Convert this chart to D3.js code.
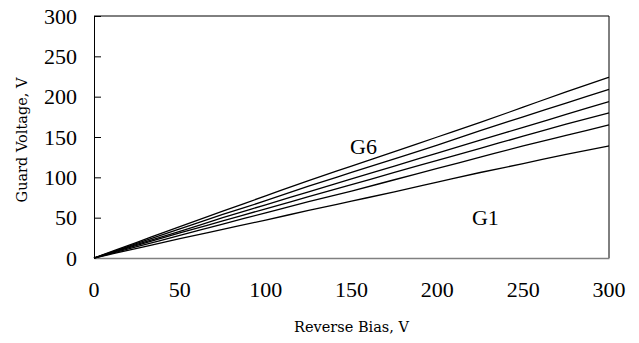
<!DOCTYPE html>
<html>
<head>
<meta charset="utf-8">
<script src="https://cdn.jsdelivr.net/npm/d3@7.9.0/dist/d3.min.js"></script>
<style>
  body { margin: 0; background: #fff; }
  svg { display: block; font-family: "Liberation Serif", "DejaVu Serif", serif; }
</style>
</head>
<body>
<div id="chart"></div>
<script>
// ---------- DATA ----------
const biasValues = [0, 25, 50, 75, 100, 125, 150, 175, 200, 225, 250, 275, 300];
const g1 = [0, 12, 24, 35.5, 47, 59, 70.5, 82, 94, 106, 117, 128.5, 139];
const g2 = [0, 14, 28, 42, 56, 70, 83, 97, 111, 125, 139, 152, 165];
const g3 = [0, 15.5, 31, 46, 61, 76, 91, 106, 121, 136, 151, 166, 180];
const g4 = [0, 17, 33, 50, 66, 82, 98, 114, 130, 146, 162, 178, 194];
const g5 = [0, 18, 36, 54, 71, 89, 106, 123, 140, 158, 175, 192, 209];
const g6 = [0, 19.5, 39, 58, 77, 96, 114, 132, 150, 168, 187, 206, 224];
const seriesList = [g1, g2, g3, g4, g5, g6];
const xTicks = [0, 50, 100, 150, 200, 250, 300];
const yTicks = [0, 50, 100, 150, 200, 250, 300];
const curveLabels = [
  { text: 'G6', x: 157, y: 138 },
  { text: 'G1', x: 228, y: 51 },
];

// ---------- LAYOUT ----------
const width = 639;
const height = 343;
const margin = { top: 16, right: 30, bottom: 85, left: 94 };
const plot = {
  left: margin.left,
  right: width - margin.right,
  top: margin.top,
  bottom: height - margin.bottom,
};

const svg = d3.select('#chart')
  .append('svg')
  .attr('width', width)
  .attr('height', height);

const x = d3.scaleLinear().domain([0, 300]).range([plot.left, plot.right]);
const y = d3.scaleLinear().domain([0, 300]).range([plot.bottom, plot.top]);

// --- frame (top + right)
svg.append('path')
  .attr('d', `M${plot.left},${plot.top}H${plot.right}V${plot.bottom}`)
  .attr('fill', 'none')
  .attr('stroke', '#000')
  .attr('stroke-width', 1);

// --- y axis (ticks inside)
const yAxis = svg.append('g')
  .attr('transform', `translate(${plot.left},0)`)
  .call(d3.axisRight(y).tickValues(yTicks).tickSize(7).tickFormat(''));
yAxis.select('.domain').attr('stroke', '#000');
yAxis.selectAll('.tick line').attr('stroke', '#000');

svg.append('g')
  .selectAll('text')
  .data(yTicks)
  .join('text')
  .attr('x', plot.left - 17)
  .attr('y', (d) => y(d))
  .attr('dy', '0.35em')
  .attr('text-anchor', 'end')
  .attr('font-size', 22)
  .text((d) => d);

// --- x axis (no ticks, grey line)
const xAxis = svg.append('g')
  .attr('transform', `translate(0,${plot.bottom})`)
  .call(d3.axisBottom(x).tickValues(xTicks).tickSize(0).tickFormat(''));
xAxis.select('.domain').attr('stroke', '#808080').attr('stroke-width', 1.5);

svg.append('g')
  .selectAll('text')
  .data(xTicks)
  .join('text')
  .attr('x', (d) => x(d))
  .attr('y', plot.bottom + 39)
  .attr('text-anchor', 'middle')
  .attr('font-size', 22)
  .text((d) => d);

// --- axis titles
svg.append('text')
  .attr('x', (plot.left + plot.right) / 2)
  .attr('y', 332)
  .attr('text-anchor', 'middle')
  .attr('font-family', 'DejaVu Serif')
  .attr('font-size', 14.5)
  .text('Reverse Bias, V');

svg.append('text')
  .attr('transform', `translate(27,${(plot.top + plot.bottom) / 2 + 3}) rotate(-90)`)
  .attr('text-anchor', 'middle')
  .attr('font-family', 'DejaVu Serif')
  .attr('font-size', 14.5)
  .text('Guard Voltage, V');

// --- curves
const line = d3.line()
  .x((d, i) => x(biasValues[i]))
  .y((d) => y(d))
  .curve(d3.curveMonotoneX);

svg.append('g')
  .selectAll('path')
  .data(seriesList)
  .join('path')
  .attr('d', line)
  .attr('fill', 'none')
  .attr('stroke', '#000')
  .attr('stroke-width', 1.3);

// --- curve labels
svg.append('g')
  .selectAll('text')
  .data(curveLabels)
  .join('text')
  .attr('x', (d) => x(d.x))
  .attr('y', (d) => y(d.y))
  .attr('dy', '0.35em')
  .attr('text-anchor', 'middle')
  .attr('font-size', 22)
  .text((d) => d.text);
</script>
</body>
</html>
